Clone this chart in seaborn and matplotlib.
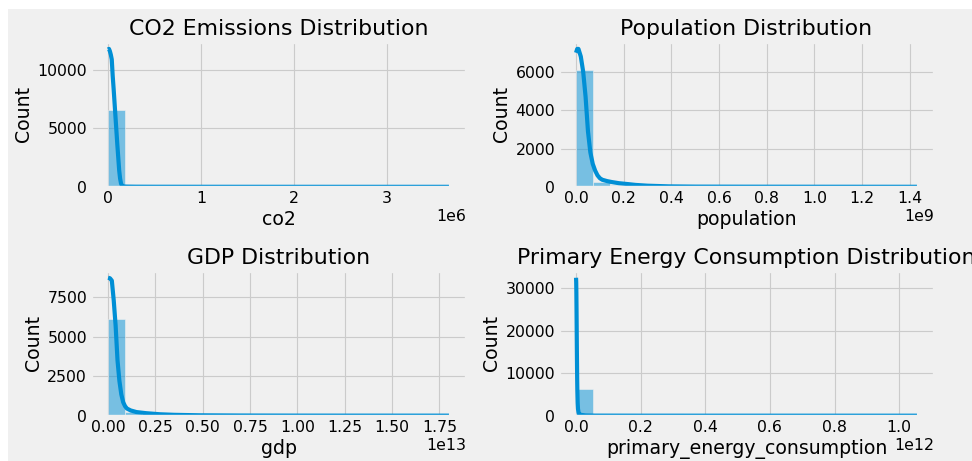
import numpy as np
import pandas as pd
import matplotlib
matplotlib.use("Agg")
import matplotlib.pyplot as plt
from matplotlib.patches import Rectangle
from matplotlib.ticker import MultipleLocator
import seaborn as sns

plt.style.use("fivethirtyeight")

# ---- data (20 bins per histogram) ----
co2_max = 3.67e6
co2_counts = [6550, 45, 18, 12, 9, 7, 6, 5, 4, 4, 3, 3, 3, 2, 2, 2, 2, 2, 1, 1]
co2_kde_x = [0.0, 0.01e6, 0.02e6, 0.03e6, 0.04e6, 0.05e6, 0.06e6, 0.07e6, 0.08e6,
             0.09e6, 0.10e6, 0.11e6, 0.12e6, 0.13e6, 0.14e6, 0.15e6, 0.16e6, 0.18e6,
             0.2e6, 0.3e6, 0.5e6, 1.0e6, 2.0e6, 3.0e6, 3.67e6]
co2_kde_y = [11750, 11800, 11600, 11300, 10900, 9500, 8400, 7200, 6000,
             4800, 3600, 2500, 1400, 700, 280, 110, 50, 30,
             22, 12, 8, 5, 3, 2, 2]

pop_max = 1.43e9
pop_counts = [6100, 260, 110, 60, 35, 25, 20, 18, 16, 15, 14, 13, 12, 12, 11, 11, 10, 10, 10, 9]
pop_kde_x = [0.0, 0.005e9, 0.01e9, 0.02e9, 0.03e9, 0.04e9, 0.05e9, 0.06e9, 0.07e9,
             0.08e9, 0.09e9, 0.10e9, 0.11e9, 0.13e9, 0.15e9, 0.18e9, 0.22e9, 0.25e9,
             0.3e9, 0.39e9, 0.5e9, 0.7e9, 1.0e9, 1.43e9]
pop_kde_y = [7000, 7200, 7200, 6800, 6000, 4700, 2900, 1800, 1200,
             850, 600, 450, 370, 300, 250, 190, 140, 100,
             60, 25, 12, 8, 5, 3]

gdp_max = 1.80e13
gdp_counts = [6090, 250, 100, 55, 35, 25, 20, 16, 14, 12, 10, 9, 8, 7, 6, 5, 5, 4, 4, 3]
gdp_kde_x = [0.0, 0.01e13, 0.02e13, 0.03e13, 0.04e13, 0.05e13, 0.06e13, 0.07e13,
             0.08e13, 0.09e13, 0.10e13, 0.12e13, 0.15e13, 0.2e13, 0.275e13, 0.35e13,
             0.487e13, 0.7e13, 1.0e13, 1.4e13, 1.8e13]
gdp_kde_y = [8730, 8700, 8550, 7300, 5700, 3500, 2200, 1350,
             850, 600, 450, 330, 230, 160, 90, 55,
             25, 12, 6, 4, 3]

pec_max = 1.055e12
pec_counts = [6370, 40, 15, 10, 8, 6, 5, 4, 4, 3, 3, 3, 2, 2, 2, 2, 1, 1, 1, 1]
pec_kde_x = [0.0, 0.0005e12, 0.001e12, 0.0015e12, 0.002e12, 0.0025e12, 0.003e12,
             0.0035e12, 0.004e12, 0.005e12, 0.006e12, 0.008e12, 0.01e12, 0.015e12,
             0.03e12, 0.06e12, 0.2e12, 0.6e12, 1.055e12]
pec_kde_y = [32500, 31500, 29000, 25000, 20500, 16000, 12000,
             8500, 6000, 3000, 1600, 700, 400, 200,
             60, 20, 5, 2, 1]

titles = ["CO2 Emissions Distribution", "Population Distribution",
          "GDP Distribution", "Primary Energy Consumption Distribution"]
xlabels = ["co2", "population", "gdp", "primary_energy_consumption"]
xtick_steps = [1e6, 0.2e9, 0.25e13, 0.2e12]

panels = [
    (co2_max, co2_counts, co2_kde_x, co2_kde_y),
    (pop_max, pop_counts, pop_kde_x, pop_kde_y),
    (gdp_max, gdp_counts, gdp_kde_x, gdp_kde_y),
    (pec_max, pec_counts, pec_kde_x, pec_kde_y),
]

W, H, DPI = 972, 461, 81
fig, axes = plt.subplots(2, 2, figsize=(W / DPI, H / DPI), dpi=DPI)
fig.patch.set_facecolor("white")
fig.add_artist(Rectangle((8 / W, 0), 1, 1 - 9 / H, transform=fig.transFigure,
                         facecolor="#f0f0f0", edgecolor="none", zorder=-10))
fig.subplots_adjust(left=91 / W, right=934 / W, bottom=1 - 415.7 / H, top=1 - 42 / H,
                    wspace=0.248, hspace=0.58)

color = "#008fd5"
for ax, (vmax, counts, kx, ky), title, xl, step in zip(axes.flat, panels, titles,
                                                      xlabels, xtick_steps):
    n = len(counts)
    centers = [(i + 0.5) * vmax / n for i in range(n)]
    df = pd.DataFrame({"x": centers, "w": counts})
    sns.histplot(data=df, x="x", weights="w", bins=n, binrange=(0, vmax),
                 ax=ax, color=color, alpha=0.5)
    sns.lineplot(x=kx, y=ky, ax=ax, color=color, linewidth=3.7)
    ax.xaxis.set_major_locator(MultipleLocator(step))
    ax.set_title(title, fontsize=19.6)
    ax.set_xlabel(xl)
    ax.set_ylabel("Count")

fig.savefig("out.png", dpi=DPI, facecolor="white")
